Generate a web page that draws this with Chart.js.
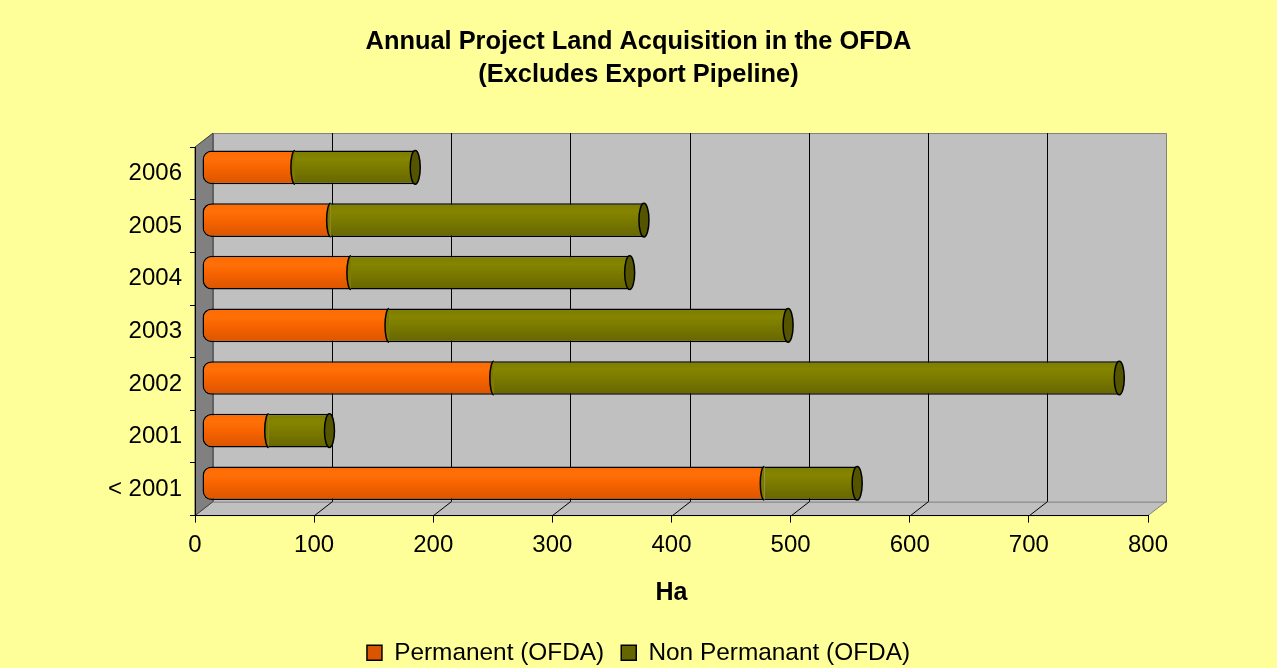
<!DOCTYPE html>
<html>
<head>
<meta charset="utf-8">
<title>Annual Project Land Acquisition in the OFDA</title>
<script src="https://cdn.jsdelivr.net/npm/chart.js@4.4.0/dist/chart.umd.min.js"></script>
<style>
  html, body { margin: 0; padding: 0; background: #ffff99; }
  canvas { display: block; }
</style>
</head>
<body>
<canvas id="landChart" width="1277" height="668"></canvas>
<script>
const categories = ['< 2001', '2001', '2002', '2003', '2004', '2005', '2006'];
const permanent = [472, 56, 245, 157, 125, 108, 78];
const nonPermanent = [78, 51, 525, 335, 234, 263, 101];
const xTickValues = [0, 100, 200, 300, 400, 500, 600, 700, 800];

// depth of the excel style 3d box, and how far back the bars sit in it
const WALL_DX = 18, WALL_DY = -14;
const BAR_DX = 7, BAR_DY = -6;
const BAR_PCT = 0.64;

const orangeStops = [[0, '#ff6a00'], [0.25, '#ff7008'], [0.5, '#f86400'], [0.75, '#e85c00'], [1, '#da5500']];
const oliveStops = [[0, '#7c7c00'], [0.25, '#858500'], [0.5, '#7b7b00'], [0.75, '#707000'], [1, '#666600']];

// shaded fill so the bars look like tubes
function tubeFill(stops, flat) {
    return function(context) {
        const chart = context.chart;
        if (!chart.chartArea || context.type !== 'data') return flat;
        const ys = chart.scales.y;
        const band = Math.abs(ys.getPixelForValue(1) - ys.getPixelForValue(0));
        const half = band * BAR_PCT / 2;
        const y = ys.getPixelForValue(context.dataIndex);
        const g = chart.ctx.createLinearGradient(0, y - half, 0, y + half);
        stops.forEach(s => g.addColorStop(s[0], s[1]));
        return g;
    };
}

function poly(ctx, pts) {
    ctx.beginPath();
    ctx.moveTo(pts[0][0], pts[0][1]);
    for (let i = 1; i < pts.length; i++) ctx.lineTo(pts[i][0], pts[i][1]);
    ctx.closePath();
}

const box3d = {
    id: 'box3d',
    beforeDraw(chart) {
        const ctx = chart.ctx;
        const a = chart.chartArea;
        const xs = chart.scales.x;
        const L = a.left, R = a.right, T = a.top, B = a.bottom;
        ctx.save();
        ctx.fillStyle = '#ffff99';
        ctx.fillRect(0, 0, chart.width, chart.height);
        ctx.lineWidth = 1;

        // floor
        ctx.fillStyle = '#c0c0c0';
        ctx.strokeStyle = '#808080';
        poly(ctx, [[L, B], [L + WALL_DX, B + WALL_DY], [R + WALL_DX, B + WALL_DY], [R, B]]);
        ctx.fill();
        ctx.stroke();

        // back wall
        ctx.beginPath();
        ctx.rect(L + WALL_DX + 0.5, T + WALL_DY + 0.5, R - L, B - T);
        ctx.fill();
        ctx.stroke();

        // left wall
        ctx.fillStyle = '#808080';
        ctx.strokeStyle = '#404040';
        poly(ctx, [[L, T], [L + WALL_DX, T + WALL_DY], [L + WALL_DX, B + WALL_DY], [L, B]]);
        ctx.fill();
        ctx.stroke();

        // gridlines on the back wall + floor
        ctx.strokeStyle = '#000';
        xTickValues.forEach(v => {
            if (v === 0 || v === xs.max) return;
            const x = Math.round(xs.getPixelForValue(v)) + 0.5;
            ctx.beginPath();
            ctx.moveTo(x + WALL_DX, T + WALL_DY);
            ctx.lineTo(x + WALL_DX, B + WALL_DY);
            ctx.moveTo(x, B);
            ctx.lineTo(x + WALL_DX, B + WALL_DY);
            ctx.stroke();
        });
        ctx.restore();
    },
    beforeDatasetsDraw(chart) {
        chart.ctx.save();
        chart.ctx.translate(BAR_DX, BAR_DY);
    },
    afterDatasetsDraw(chart) {
        const ctx = chart.ctx;
        const meta = chart.getDatasetMeta(1);
        ctx.lineWidth = 1.5;
        ctx.strokeStyle = '#000';
        meta.data.forEach(el => {
            const h = el.height / 2;
            // seam between the two pieces
            ctx.beginPath();
            ctx.ellipse(el.base, el.y, 4, h, 0, Math.PI / 2, Math.PI * 1.5);
            ctx.fillStyle = '#7a7a00';
            ctx.fill();
            ctx.stroke();
            // end cap
            ctx.beginPath();
            ctx.ellipse(el.x, el.y, 5, h, 0, 0, Math.PI * 2);
            ctx.fillStyle = '#555500';
            ctx.fill();
            ctx.stroke();
        });
        ctx.restore();
    }
};

Chart.defaults.font.family = "Arial, 'Liberation Sans', sans-serif";
Chart.defaults.color = '#000';

new Chart(document.getElementById('landChart'), {
    type: 'bar',
    data: {
        labels: categories,
        datasets: [{
            label: 'Permanent (OFDA)',
            data: permanent,
            yAxisID: 'y',
            xAxisID: 'x',
            backgroundColor: tubeFill(orangeStops, '#ff6600'),
            borderColor: '#000',
            borderWidth: 1.5,
            borderSkipped: 'end',
            borderRadius: { topLeft: 9, bottomLeft: 9, topRight: 0, bottomRight: 0 },
            barPercentage: BAR_PCT,
            categoryPercentage: 1
        }, {
            label: 'Non Permanant (OFDA)',
            data: nonPermanent,
            yAxisID: 'y',
            xAxisID: 'x',
            backgroundColor: tubeFill(oliveStops, '#808000'),
            borderColor: '#000',
            borderWidth: 1.5,
            borderSkipped: 'start',
            borderRadius: 0,
            barPercentage: BAR_PCT,
            categoryPercentage: 1
        }]
    },
    options: {
        indexAxis: 'y',
        responsive: false,
        animation: false,
        layout: { padding: { left: 0, right: 0, top: 0, bottom: -7 } },
        scales: {
            x: {
                stacked: true,
                min: 0,
                max: 800,
                afterBuildTicks: s => { s.ticks = xTickValues.map(v => ({ value: v })); },
                afterFit: s => { s.height = 108; },
                ticks: { font: { size: 24 }, padding: 8, color: '#000' },
                grid: { drawOnChartArea: false, tickLength: 7, color: '#000' },
                border: { color: '#000', width: 1 },
                title: {
                    display: true,
                    text: 'Ha',
                    font: { size: 25, weight: 'bold' },
                    padding: { top: 0, bottom: 15 }
                }
            },
            y: {
                stacked: true,
                reverse: true,
                afterFit: s => { s.width = 195; },
                ticks: { font: { size: 24 }, padding: 8, color: '#000' },
                grid: { drawOnChartArea: false, tickLength: 5, color: '#000' },
                border: { color: '#000', width: 1 }
            },
            // empty right-hand axis, only keeps the gap right of the plot
            yGap: {
                type: 'category',
                position: 'right',
                grid: { display: false },
                ticks: { display: false },
                border: { display: false },
                afterFit: s => { s.width = 129; }
            }
        },
        plugins: {
            title: {
                display: true,
                text: ['Annual Project Land Acquisition in the OFDA', '(Excludes Export Pipeline)'],
                font: { size: 25.4, weight: 'bold', lineHeight: 1.32 },
                padding: { top: 25, bottom: 55 },
                color: '#000'
            },
            legend: {
                position: 'bottom',
                labels: { boxWidth: 15, boxHeight: 15, padding: 17, font: { size: 24.4 }, color: '#000' }
            },
            tooltip: { enabled: false }
        }
    },
    plugins: [box3d]
});
</script>
</body>
</html>
